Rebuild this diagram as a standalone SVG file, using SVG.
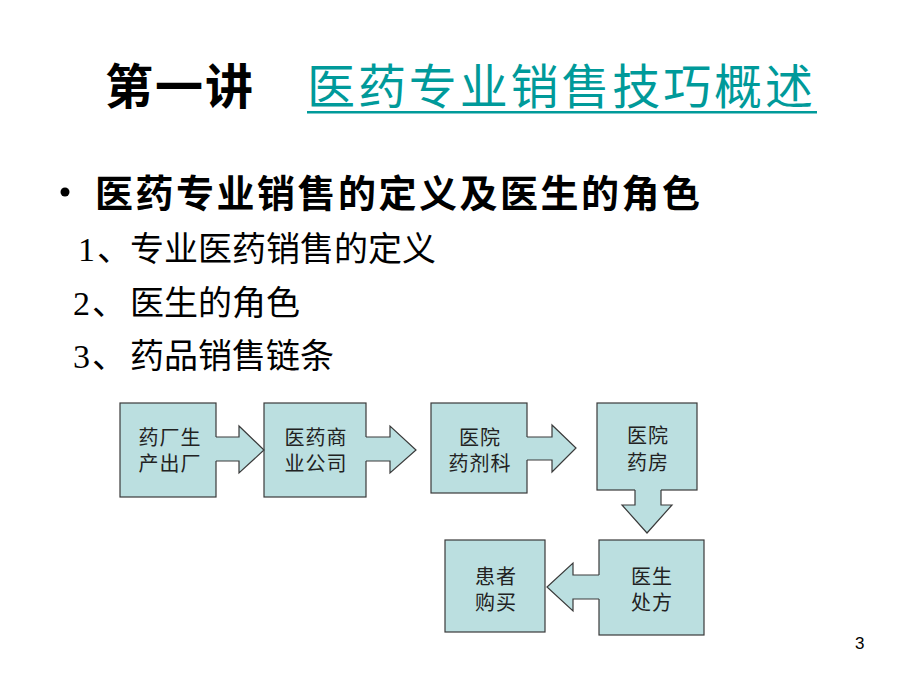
<svg xmlns="http://www.w3.org/2000/svg" width="920" height="690" viewBox="0 0 920 690">
<style>
.box{fill:#bbdfe0;stroke:#3a3a3a;stroke-width:1.2}
.afill{fill:#bbdfe0;stroke:none}
.aline{fill:none;stroke:#3a3a3a;stroke-width:1.2;stroke-linejoin:miter}
.bt{font-family:"Noto Sans CJK SC","Liberation Serif",sans-serif;font-size:20px;fill:#222;text-anchor:middle;letter-spacing:1px}
.item{font-family:"Liberation Serif","Noto Sans CJK SC",serif;font-size:34px;fill:#000}
</style>
<rect width="920" height="690" fill="#fff"/>
<g id="title">
<text x="105" y="104" font-family="Noto Sans CJK SC,sans-serif" font-size="48" font-weight="bold" fill="#000" textLength="148" lengthAdjust="spacing">第一讲</text>
<text x="307" y="104" font-family="Noto Sans CJK SC,sans-serif" font-size="48" fill="#009a9a" textLength="506" lengthAdjust="spacing">医药专业销售技巧概述</text>
<rect x="307" y="111" width="510" height="2.5" fill="#009a9a"/>
</g>
<g id="bullets">
<circle cx="65" cy="192" r="4.5" fill="#000"/>
<text x="95" y="207" font-family="Noto Sans CJK SC,sans-serif" font-size="38" font-weight="bold" fill="#000" textLength="605" lengthAdjust="spacing">医药专业销售的定义及医生的角色</text>
<text class="item" x="78" y="261">1<tspan dx="2">、</tspan><tspan x="130">专业医药销售的定义</tspan></text>
<text class="item" x="73" y="315">2<tspan dx="2">、</tspan><tspan x="130">医生的角色</tspan></text>
<text class="item" x="73" y="368">3<tspan dx="2">、</tspan><tspan x="130">药品销售链条</tspan></text>
</g>
<g id="n1">
<rect class="box" x="120" y="403" width="96" height="94"/>
<text class="bt" x="170" y="445">药厂生<tspan x="170" dy="26">产出厂</tspan></text>
</g>
<g id="n2">
<rect class="box" x="264" y="403" width="102" height="94"/>
<text class="bt" x="316" y="445">医药商<tspan x="316" dy="26">业公司</tspan></text>
</g>
<g id="n3">
<rect class="box" x="431" y="403" width="96" height="90"/>
<text class="bt" x="480" y="445">医院<tspan x="480" dy="26">药剂科</tspan></text>
</g>
<g id="n4">
<rect class="box" x="597" y="403" width="100" height="87"/>
<text class="bt" x="648" y="443">医院<tspan x="648" dy="27">药房</tspan></text>
</g>
<g id="n5">
<rect class="box" x="599" y="540" width="105" height="95"/>
<text class="bt" x="652" y="584">医生<tspan x="652" dy="26">处方</tspan></text>
</g>
<g id="n6">
<rect class="box" x="445" y="540" width="100" height="92"/>
<text class="bt" x="496" y="584">患者<tspan x="496" dy="26">购买</tspan></text>
</g>
<g id="connectors">
<path class="afill" d="M215,437 H239 V426 L264,450 L239,473 V461 H215 Z"/>
<path class="aline" d="M216,437 H239 V426 L264,450 L239,473 V461 H216"/>
<path class="afill" d="M365,437 H390 V426 L416,450 L390,473 V461 H365 Z"/>
<path class="aline" d="M366,437 H390 V426 L416,450 L390,473 V461 H366"/>
<path class="afill" d="M526,437 H552 V425 L576,448 L552,472 V460 H526 Z"/>
<path class="aline" d="M527,437 H552 V425 L576,448 L552,472 V460 H527"/>
<path class="afill" d="M635,489 V505 H622 L647,533 L672,505 H661 V489 Z"/>
<path class="aline" d="M635,490 V505 H622 L647,533 L672,505 H661 V490"/>
<path class="afill" d="M600,575 H573 V563 L547,587 L573,611 V599 H600 Z"/>
<path class="aline" d="M599,575 H573 V563 L547,587 L573,611 V599 H599"/>
</g>
<text x="855" y="649" font-family="Liberation Sans,sans-serif" font-size="17" fill="#000">3</text>
</svg>
